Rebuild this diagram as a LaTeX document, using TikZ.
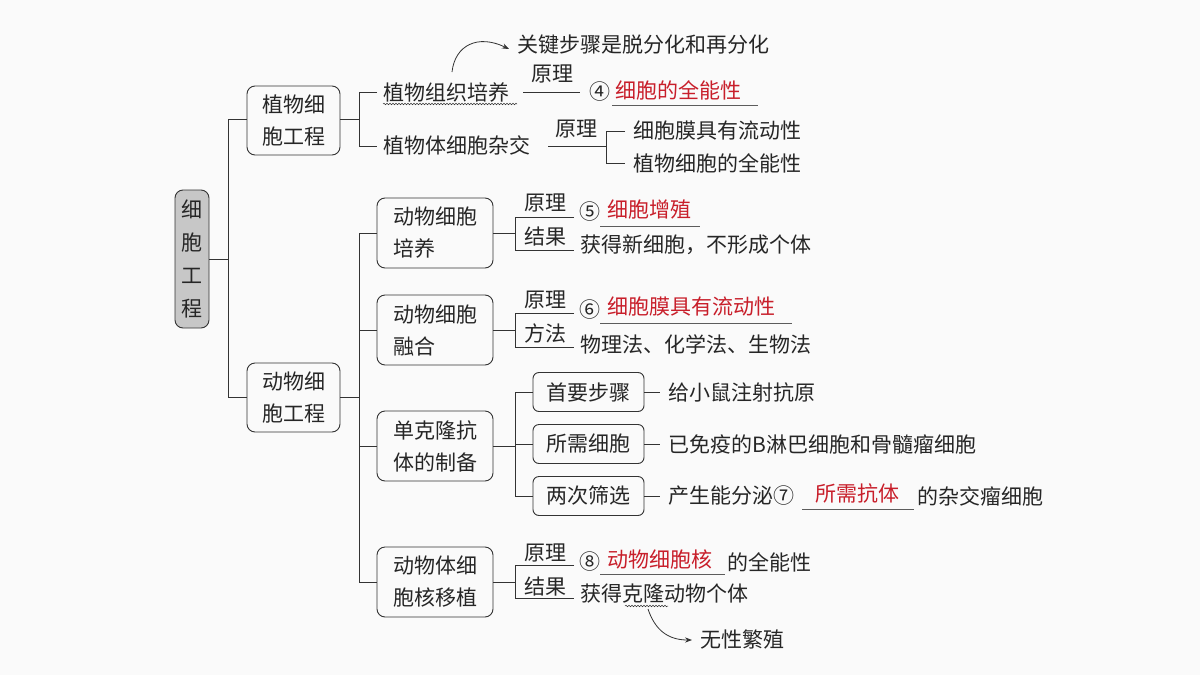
\documentclass[tikz,border=0pt]{standalone}
\usepackage{fontspec}
\setmainfont{Noto Sans CJK SC}
\usetikzlibrary{decorations.pathmorphing,arrows.meta}
\definecolor{rd}{HTML}{C81E2A}
\definecolor{ln}{HTML}{333333}
\begin{document}
\begin{tikzpicture}[x=1pt,y=-1pt,
  every node/.style={font=\fontsize{21}{25}\selectfont,text=black!85},
  tx/.style={anchor=west,inner sep=0pt},
  bx/.style={draw=ln,line width=0.9pt,rounded corners=8pt,inner sep=0pt,align=left},
  sb/.style={draw=ln,line width=0.9pt,rounded corners=6pt,inner sep=0pt},
  con/.style={draw=ln,line width=0.8pt},
  ul/.style={draw=ln!80,line width=0.8pt},
  wv/.style={draw=ln,line width=0.5pt,decorate,decoration={snake,amplitude=0.8pt,segment length=3pt}},
  red/.style={tx,text=rd}]
\useasboundingbox (0,0) rectangle (1200,675);
\fill[black!2] (0,0) rectangle (1200,675);
% root
\node[bx,fill=black!22,minimum width=34pt,minimum height=138pt,align=center,font=\fontsize{21}{33}\selectfont] (root) at (192,259) {细\\胞\\工\\程};
\draw[con] (root.east) -- (228,259) coordinate (r1);
\draw[con] (228,119) -- (228,397);
% plant / animal
\node[bx,minimum width=93pt,minimum height=69pt,font=\fontsize{21}{32}\selectfont] (plant) at (293.5,120.5) {植物细\\胞工程};
\node[bx,minimum width=93pt,minimum height=69pt,font=\fontsize{21}{32}\selectfont] (anim) at (293.5,397.5) {动物细\\胞工程};
\draw[con] (228,119) -- (plant.west|-228,119);
\draw[con] (228,397) -- (anim.west|-228,397);
% plant branch
\draw[con] (plant.east|-0,119) -- (359,119);
\draw[con] (377,92) -| (359,146) -- (377,146);
\node[tx] (pt) at (383,92) {植物组织培养};
\draw[wv] (383,104) -- (517,104);
\node[tx] (ph) at (383,145) {植物体细胞杂交};
\draw[con] (523,92) -- (580,92);
\node (yl1) at (552,74) {原理};
\node[tx] (c4) at (589,92) {④};
\node[red] (r4) at (615,90) {细胞的全能性};
\draw[ul] (612,105) -- (758,105);
\node[tx] (k) at (517,45) {关键步骤是脱分化和再分化};
\draw[ln,line width=0.8pt,-{Stealth[length=7pt]}] (452,72) .. controls (455,45) and (478,34) .. ([xshift=-8pt,yshift=-4pt]k.west);
\draw[con] (548,146) -- (606,146);
\node (yl2) at (576,129) {原理};
\draw[con] (625,131) -| (606,163) -- (625,163);
\node[tx] at (633,131) {细胞膜具有流动性};
\node[tx] at (633,163) {植物细胞的全能性};
% animal branch
\draw[con] (anim.east|-0,397) -- (359,397);
\draw[con] (359,233) -- (359,582);
\foreach \yy/\nm/\txt in {233/a1/{动物细胞\\培养},330/a2/{动物细胞\\融合},446/a3/{单克隆抗\\体的制备},582/a4/{动物体细\\胞核移植}}{
  \node[bx,minimum width=116pt,minimum height=70pt,font=\fontsize{21}{32}\selectfont] (\nm) at (435,\yy) {\txt};
  \draw[con] (359,\yy) -- (\nm.west);
  \draw[con] (\nm.east) -- (515,\yy);
}
% a1
\draw[con] (574,217) -| (515,250) -- (574,250);
\node at (545,203) {原理};
\node at (545,237) {结果};
\node[tx] at (579,212) {⑤};
\node[red] at (607,210) {细胞增殖};
\draw[ul] (600,226) -- (700,226);
\node[tx] at (580,245) {获得新细胞，不形成个体};
% a2
\draw[con] (574,313) -| (515,347) -- (574,347);
\node at (545,300) {原理};
\node at (545,333) {方法};
\node[tx] at (579,310) {⑥};
\node[red] at (607,307) {细胞膜具有流动性};
\draw[ul] (600,323) -- (792,323);
\node[tx] at (580,344) {物理法、化学法、生物法};
% a3
\draw[con] (515,392) -- (515,496);
\foreach \yy/\nm/\txt/\rt in {392/s1/首要步骤/给小鼠注射抗原,444/s2/所需细胞/已免疫的B淋巴细胞和骨髓瘤细胞,496/s3/两次筛选/产生能分泌⑦}{
  \node[sb,minimum width=111pt,minimum height=39pt] (\nm) at (588.5,\yy) {\txt};
  \draw[con] (515,\yy) -- (\nm.west);
  \draw[con] (\nm.east) -- (660,\yy);
  \node[tx] at (668,\yy) {\rt};
}
\node[red] at (815,493) {所需抗体};
\draw[ul] (802,509) -- (914,509);
\node[tx] at (917,496) {的杂交瘤细胞};
% a4
\draw[con] (574,565) -| (515,598) -- (574,598);
\node at (545,553) {原理};
\node at (545,587) {结果};
\node[tx] at (579,562) {⑧};
\node[red] at (607,560) {动物细胞核};
\draw[ul] (600,574) -- (725,574);
\node[tx] at (727,562) {的全能性};
\node[tx] (kl) at (580,594) {获得克隆动物个体};
\draw[wv] (625,606) -- (668,606);
\node[tx] (wx) at (700,640) {无性繁殖};
\draw[ln,line width=0.8pt,-{Stealth[length=7pt]}] (648,609) .. controls (655,630) and (668,640) .. ([xshift=-8pt]wx.west);
\end{tikzpicture}
\end{document}
